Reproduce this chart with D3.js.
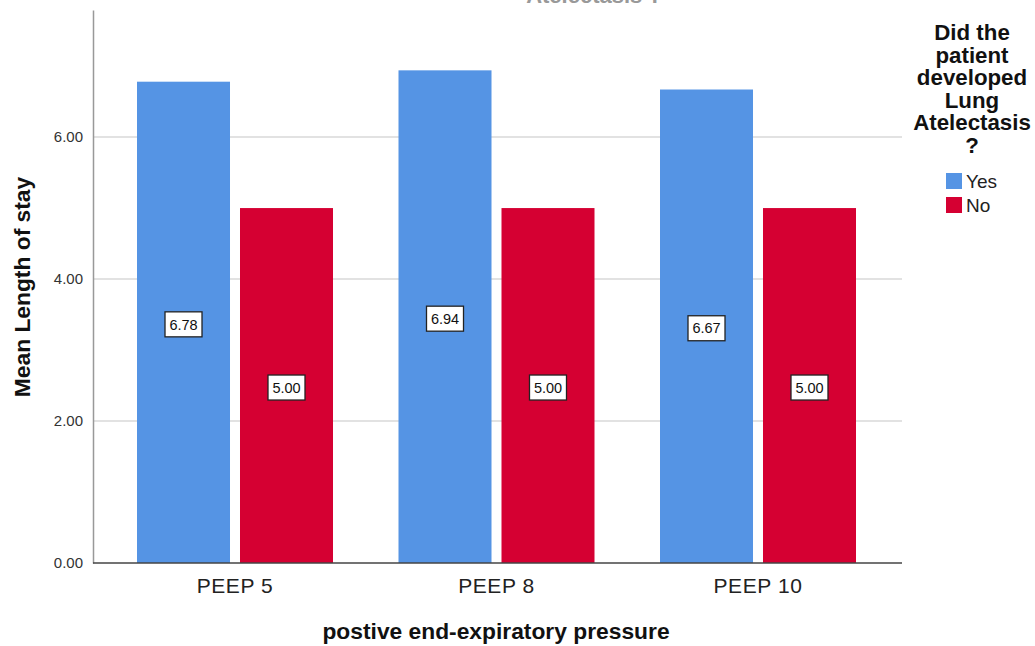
<!DOCTYPE html>
<html><head><meta charset="utf-8">
<script src="https://cdn.jsdelivr.net/npm/d3@7"></script>
<style>body{margin:0;background:#fff;} svg{display:block;font-family:"Liberation Sans",Arial,sans-serif;}</style>
</head><body><svg id="c" width="1035" height="646"></svg>
<script>
const categories = ["PEEP 5", "PEEP 8", "PEEP 10"];
const seriesNames = ["Yes", "No"];
const yesValues = [6.78, 6.94, 6.67];
const noValues = [5.00, 5.00, 5.00];
const yTicks = [0, 2, 4, 6];
const colors = ["#5594e4", "#d50032"];

const svg = d3.select("#c");
const pLeft = 93, pRight = 902, pTop = 10, pBottom = 563;
const y = d3.scaleLinear().domain([0, 7.79]).range([pBottom, pTop]);
const x0 = d3.scaleBand().domain(categories).range([104.25, 888.75]).paddingInner(0).paddingOuter(0);
const x1 = d3.scaleBand().domain(seriesNames).range([0, x0.bandwidth()]).paddingInner(0.097).paddingOuter(0.318);

// title (cut off at top edge, as in the reference)
svg.append("text").attr("x", 594).attr("y", 3).attr("text-anchor", "middle")
  .attr("font-size", 22).attr("font-weight", "bold").attr("fill", "#999").text("Atelectasis ?");

// gridlines
svg.append("g").selectAll("line").data(yTicks.filter(d => d > 0)).join("line")
  .attr("x1", pLeft).attr("x2", pRight).attr("y1", d => y(d)).attr("y2", d => y(d))
  .attr("stroke", "#d9d9d9").attr("stroke-width", 1.5);

// y axis
const yAxis = d3.axisLeft(y).tickValues(yTicks).tickFormat(d3.format(".2f")).tickSize(0).tickPadding(10);
const ga = svg.append("g").attr("transform", `translate(${pLeft},0)`).call(yAxis);
ga.select(".domain").attr("stroke", "#999").attr("stroke-width", 1.5);
ga.selectAll("text").attr("font-size", 15).attr("fill", "#333").attr("font-family", "Liberation Sans, Arial, sans-serif");

// bars
const data = categories.map((c, i) => ({cat: c, vals: [yesValues[i], noValues[i]]}));
const groups = svg.append("g").selectAll("g").data(data).join("g")
  .attr("transform", d => `translate(${x0(d.cat)},0)`);
groups.selectAll("rect").data(d => d.vals.map((v, j) => ({s: seriesNames[j], v, j}))).join("rect")
  .attr("x", d => x1(d.s)).attr("width", x1.bandwidth())
  .attr("y", d => y(d.v)).attr("height", d => pBottom - y(d.v))
  .attr("fill", d => colors[d.j]);

// value labels
const lab = groups.selectAll("g.lab").data(d => d.vals.map((v, j) => ({s: seriesNames[j], v, j}))).join("g")
  .attr("class", "lab")
  .attr("transform", d => `translate(${x1(d.s) + x1.bandwidth() / 2},${(y(d.v) + pBottom) / 2 + 2})`);
lab.append("rect").attr("x", -18.5).attr("y", -12.5).attr("width", 37).attr("height", 25)
  .attr("fill", "#fff").attr("stroke", "#222").attr("stroke-width", 1.3);
lab.append("text").attr("text-anchor", "middle").attr("dy", "0.36em").attr("font-size", 14.5)
  .attr("fill", "#111").text(d => d.v.toFixed(2));

// x axis line
svg.append("line").attr("x1", pLeft).attr("x2", pRight).attr("y1", pBottom).attr("y2", pBottom)
  .attr("stroke", "#444").attr("stroke-width", 1.5);
const xAxis = d3.axisBottom(x0).tickSize(0).tickPadding(15);
const gx = svg.append("g").attr("transform", `translate(0,${pBottom})`).call(xAxis);
gx.select(".domain").remove();
gx.selectAll("text").attr("font-size", 21).attr("letter-spacing", 0.6).attr("fill", "#222")
  .attr("font-family", "Liberation Sans, Arial, sans-serif");

// axis titles
svg.append("text").attr("x", 496).attr("y", 639).attr("text-anchor", "middle")
  .attr("font-size", 22.8).attr("font-weight", "bold").attr("fill", "#111").text("postive end-expiratory pressure");
svg.append("text").attr("transform", "translate(30,287) rotate(-90)").attr("text-anchor", "middle")
  .attr("font-size", 22.8).attr("font-weight", "bold").attr("fill", "#111").text("Mean Length of stay");

// legend
const legTitle = ["Did the", "patient", "developed", "Lung", "Atelectasis", "?"];
svg.append("g").selectAll("text").data(legTitle).join("text")
  .attr("x", 972).attr("y", (d, i) => 40 + i * 22.5).attr("text-anchor", "middle")
  .attr("font-size", 22.3).attr("font-weight", "bold").attr("fill", "#111").text(d => d);
const li = svg.append("g").selectAll("g").data(seriesNames).join("g")
  .attr("transform", (d, i) => `translate(946,${173 + i * 24})`);
li.append("rect").attr("width", 16).attr("height", 16).attr("fill", (d, i) => colors[i]);
li.append("text").attr("x", 20).attr("y", 15).attr("font-size", 19).attr("fill", "#222").text(d => d);
</script></body></html>
